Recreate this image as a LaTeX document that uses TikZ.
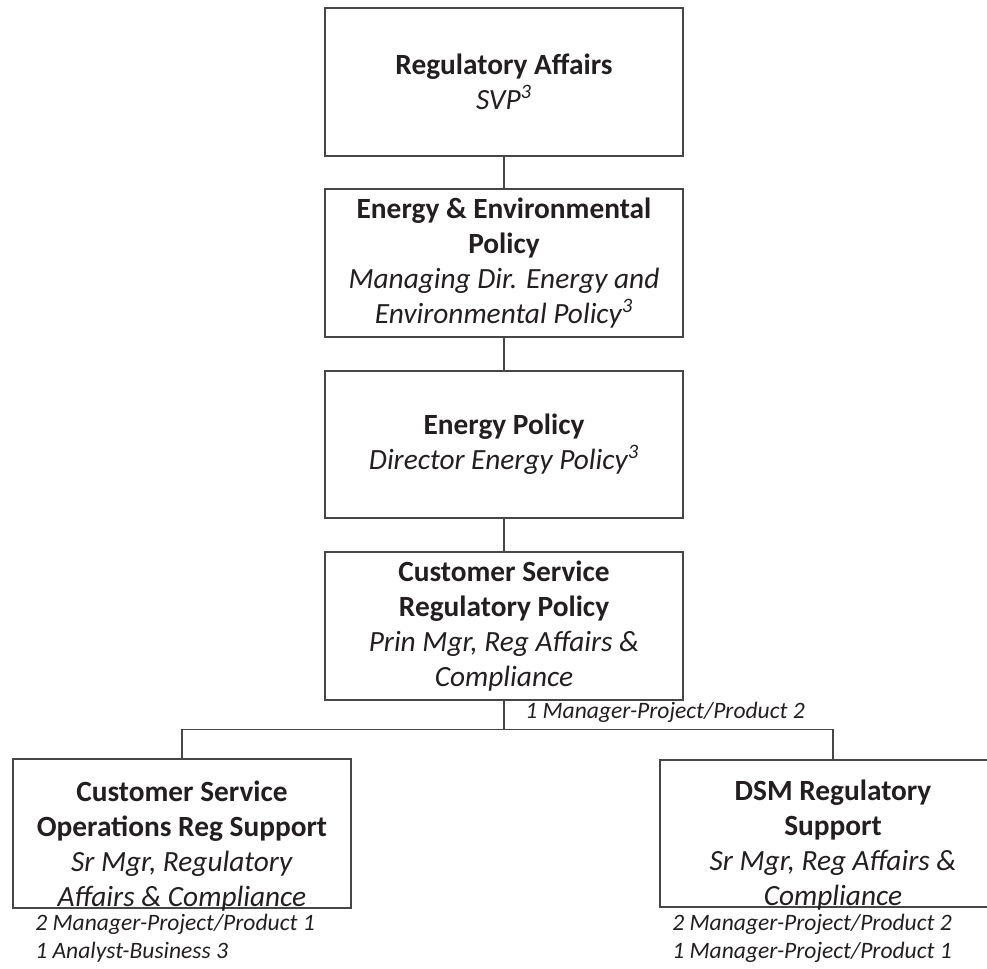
\documentclass[tikz,border=0pt]{standalone}
\usepackage{fontspec}
\setmainfont{Carlito}
\usepackage{tikz}
\usepackage{color}

\definecolor{boxgray}{RGB}{70,70,70}
\definecolor{inkgray}{RGB}{35,31,32}

\tikzset{
  unitbox/.style={draw=boxgray, line width=1.3pt, rectangle, inner sep=0pt,
    align=center, text=inkgray, font=\fontsize{16.7}{20}\selectfont},
  unittext/.style={inner sep=0pt, align=center, text=inkgray,
    font=\fontsize{16.7}{20}\selectfont},
  staffnote/.style={inner sep=0pt, align=left, text=inkgray,
    font=\fontsize{13.4}{15.8}\selectfont\itshape},
  link/.style={draw=boxgray, line width=0.7pt}
}

\begin{document}
\begin{tikzpicture}[x=0.02cm, y=-0.02cm]
\useasboundingbox (0,0) rectangle (987,969);

% Drawing the chain of boxes
\node[unitbox, minimum width=7.16cm, minimum height=2.96cm] (ra) at (504,82)
  {\textbf{Regulatory Affairs}\\ \textit{SVP\textsuperscript{3}}};
\node[unitbox, minimum width=7.16cm, minimum height=2.96cm] (eep) at (504,263)
  {\textbf{Energy \& Environmental}\\ \textbf{Policy}\\ \textit{Managing Dir. Energy and}\\ \textit{Environmental Policy\textsuperscript{3}}};
\node[unitbox, minimum width=7.16cm, minimum height=2.94cm] (ep) at (504,444.5)
  {\textbf{Energy Policy}\\ \textit{Director Energy Policy\textsuperscript{3}}};
\node[unitbox, minimum width=7.16cm, minimum height=2.96cm] (csrp) at (504,626)
  {\textbf{Customer Service}\\ \textbf{Regulatory Policy}\\ \textit{Prin Mgr, Reg Affairs \&}\\ \textit{Compliance}};

% Drawing the two support boxes
\node[unitbox, minimum width=6.76cm, minimum height=2.98cm] (csops) at (182,833.5) {};
\node[unittext] (csopstext) at (182,846)
  {\textbf{Customer Service}\\ \textbf{Operations Reg Support}\\ \textit{Sr Mgr, Regulatory}\\ \textit{Affairs \& Compliance}};
\node[unitbox, minimum width=6.92cm, minimum height=2.94cm] (dsm) at (833,833.5) {};
\node[unittext] (dsmtext) at (833,845)
  {\textbf{DSM Regulatory}\\ \textbf{Support}\\ \textit{Sr Mgr, Reg Affairs \&}\\ \textit{Compliance}};

% Drawing connectors
\coordinate (split) at (504,729.5);
\draw[link] (ra.south) -- (eep.north);
\draw[link] (eep.south) -- (ep.north);
\draw[link] (ep.south) -- (csrp.north);
\draw[link] (csrp.south) -- (split);
\draw[link] (csops.north) |- (split);
\draw[link] (dsm.north) |- (split);

% Drawing staff counts
\node[staffnote, anchor=base west] (csrpstaff) at (525,718) {1 Manager-Project/Product 2};
\node[staffnote, anchor=base west] (csopsstaff) at (35,958)
  {2 Manager-Project/Product 1\\ 1 Analyst-Business 3};
\node[staffnote, anchor=base west] (dsmstaff) at (672,958)
  {2 Manager-Project/Product 2\\ 1 Manager-Project/Product 1};
\end{tikzpicture}
\end{document}
